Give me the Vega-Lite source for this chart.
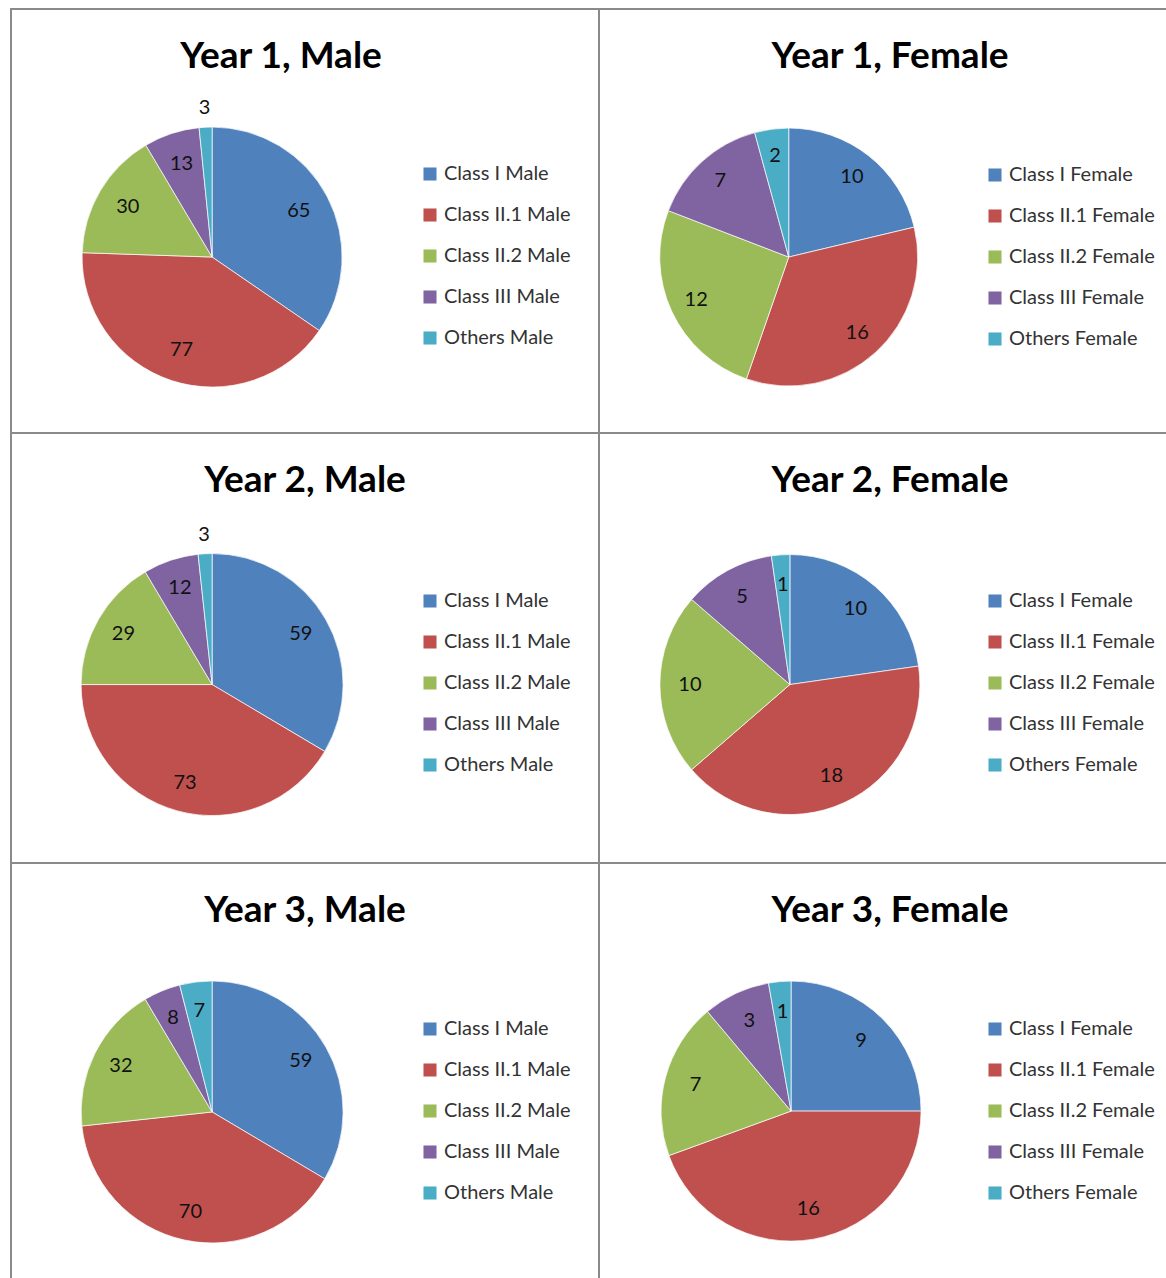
{
  "$schema": "https://vega.github.io/schema/vega-lite/v6.json",
  "padding": {"left": 10, "top": 8, "right": 0, "bottom": 0},
  "autosize": {"type": "pad"},
  "spacing": 0,
  "bounds": "flush",
  "columns": 2,
  "data": {"values": [
    {"year": "Year 1", "sex": "Male", "series": "Class I Male", "value": 65},
    {"year": "Year 1", "sex": "Male", "series": "Class II.1 Male", "value": 77},
    {"year": "Year 1", "sex": "Male", "series": "Class II.2 Male", "value": 30},
    {"year": "Year 1", "sex": "Male", "series": "Class III Male", "value": 13},
    {"year": "Year 1", "sex": "Male", "series": "Others Male", "value": 3},
    {"year": "Year 1", "sex": "Female", "series": "Class I Female", "value": 10},
    {"year": "Year 1", "sex": "Female", "series": "Class II.1 Female", "value": 16},
    {"year": "Year 1", "sex": "Female", "series": "Class II.2 Female", "value": 12},
    {"year": "Year 1", "sex": "Female", "series": "Class III Female", "value": 7},
    {"year": "Year 1", "sex": "Female", "series": "Others Female", "value": 2},
    {"year": "Year 2", "sex": "Male", "series": "Class I Male", "value": 59},
    {"year": "Year 2", "sex": "Male", "series": "Class II.1 Male", "value": 73},
    {"year": "Year 2", "sex": "Male", "series": "Class II.2 Male", "value": 29},
    {"year": "Year 2", "sex": "Male", "series": "Class III Male", "value": 12},
    {"year": "Year 2", "sex": "Male", "series": "Others Male", "value": 3},
    {"year": "Year 2", "sex": "Female", "series": "Class I Female", "value": 10},
    {"year": "Year 2", "sex": "Female", "series": "Class II.1 Female", "value": 18},
    {"year": "Year 2", "sex": "Female", "series": "Class II.2 Female", "value": 10},
    {"year": "Year 2", "sex": "Female", "series": "Class III Female", "value": 5},
    {"year": "Year 2", "sex": "Female", "series": "Others Female", "value": 1},
    {"year": "Year 3", "sex": "Male", "series": "Class I Male", "value": 59},
    {"year": "Year 3", "sex": "Male", "series": "Class II.1 Male", "value": 70},
    {"year": "Year 3", "sex": "Male", "series": "Class II.2 Male", "value": 32},
    {"year": "Year 3", "sex": "Male", "series": "Class III Male", "value": 8},
    {"year": "Year 3", "sex": "Male", "series": "Others Male", "value": 7},
    {"year": "Year 3", "sex": "Female", "series": "Class I Female", "value": 9},
    {"year": "Year 3", "sex": "Female", "series": "Class II.1 Female", "value": 16},
    {"year": "Year 3", "sex": "Female", "series": "Class II.2 Female", "value": 7},
    {"year": "Year 3", "sex": "Female", "series": "Class III Female", "value": 3},
    {"year": "Year 3", "sex": "Female", "series": "Others Female", "value": 1}
  ]},
  "concat": [
    {
      "width": 588, "height": 424,
      "title": {"text": "Year 1, Male", "dx": -24},
      "transform": [{"filter": "datum.year == 'Year 1' && datum.sex == 'Male'"}, {"joinaggregate": [{"op": "sum", "field": "value", "as": "total"}]}],
      "encoding": {
        "theta": {"field": "value", "type": "quantitative", "stack": true},
        "order": {"field": "series", "sort": "ascending"},
        "color": {"field": "series", "type": "nominal", "legend": {"title": null, "legendX": 409, "legendY": 155}},
        "x": {"datum": 0, "type": "quantitative", "scale": {"domain": [-342, 658], "nice": false, "zero": false}, "axis": null},
        "y": {"datum": 0, "type": "quantitative", "scale": {"domain": [-415, 585], "nice": false, "zero": false}, "axis": null}
      },
      "layer": [
        {"mark": {"type": "arc", "outerRadius": 130, "stroke": "#ffffff", "strokeWidth": 0.7}},
        {"mark": {"type": "text", "radius": {"expr": "datum.value / datum.total < 0.02 ? 149 : 98"}, "font": "Lato", "fontSize": 20, "align": "center", "baseline": "middle"},
         "encoding": {"text": {"field": "value", "type": "quantitative"}, "detail": {"field": "series"}, "color": {"value": "#111111"}}}
      ]
    },
    {
      "width": 582, "height": 424,
      "title": {"text": "Year 1, Female"},
      "transform": [{"filter": "datum.year == 'Year 1' && datum.sex == 'Female'"}, {"joinaggregate": [{"op": "sum", "field": "value", "as": "total"}]}],
      "encoding": {
        "theta": {"field": "value", "type": "quantitative", "stack": true},
        "order": {"field": "series", "sort": "ascending"},
        "color": {"field": "series", "type": "nominal", "legend": {"title": null, "legendX": 386, "legendY": 156}},
        "x": {"datum": 0, "type": "quantitative", "scale": {"domain": [-326, 674], "nice": false, "zero": false}, "axis": null},
        "y": {"datum": 0, "type": "quantitative", "scale": {"domain": [-415, 585], "nice": false, "zero": false}, "axis": null}
      },
      "layer": [
        {"mark": {"type": "arc", "outerRadius": 129, "stroke": "#ffffff", "strokeWidth": 0.7}},
        {"mark": {"type": "text", "radius": {"expr": "datum.value / datum.total < 0.02 ? 149 : 102"}, "font": "Lato", "fontSize": 20, "align": "center", "baseline": "middle"},
         "encoding": {"text": {"field": "value", "type": "quantitative"}, "detail": {"field": "series"}, "color": {"value": "#111111"}}}
      ]
    },
    {
      "width": 588, "height": 430,
      "title": {"text": "Year 2, Male"},
      "transform": [{"filter": "datum.year == 'Year 2' && datum.sex == 'Male'"}, {"joinaggregate": [{"op": "sum", "field": "value", "as": "total"}]}],
      "encoding": {
        "theta": {"field": "value", "type": "quantitative", "stack": true},
        "order": {"field": "series", "sort": "ascending"},
        "color": {"field": "series", "type": "nominal", "legend": {"title": null, "legendX": 409, "legendY": 158}},
        "x": {"datum": 0, "type": "quantitative", "scale": {"domain": [-342, 658], "nice": false, "zero": false}, "axis": null},
        "y": {"datum": 0, "type": "quantitative", "scale": {"domain": [-415, 585], "nice": false, "zero": false}, "axis": null}
      },
      "layer": [
        {"mark": {"type": "arc", "outerRadius": 131, "stroke": "#ffffff", "strokeWidth": 0.7}},
        {"mark": {"type": "text", "radius": {"expr": "datum.value / datum.total < 0.02 ? 150 : 102"}, "font": "Lato", "fontSize": 20, "align": "center", "baseline": "middle"},
         "encoding": {"text": {"field": "value", "type": "quantitative"}, "detail": {"field": "series"}, "color": {"value": "#111111"}}}
      ]
    },
    {
      "width": 582, "height": 430,
      "title": {"text": "Year 2, Female"},
      "transform": [{"filter": "datum.year == 'Year 2' && datum.sex == 'Female'"}, {"joinaggregate": [{"op": "sum", "field": "value", "as": "total"}]}],
      "encoding": {
        "theta": {"field": "value", "type": "quantitative", "stack": true},
        "order": {"field": "series", "sort": "ascending"},
        "color": {"field": "series", "type": "nominal", "legend": {"title": null, "legendX": 386, "legendY": 158}},
        "x": {"datum": 0, "type": "quantitative", "scale": {"domain": [-328, 672], "nice": false, "zero": false}, "axis": null},
        "y": {"datum": 0, "type": "quantitative", "scale": {"domain": [-415, 585], "nice": false, "zero": false}, "axis": null}
      },
      "layer": [
        {"mark": {"type": "arc", "outerRadius": 130, "stroke": "#ffffff", "strokeWidth": 0.7}},
        {"mark": {"type": "text", "radius": {"expr": "datum.value / datum.total < 0.02 ? 150 : 100"}, "font": "Lato", "fontSize": 20, "align": "center", "baseline": "middle"},
         "encoding": {"text": {"field": "value", "type": "quantitative"}, "detail": {"field": "series"}, "color": {"value": "#111111"}}}
      ]
    },
    {
      "width": 588, "height": 430,
      "title": {"text": "Year 3, Male"},
      "transform": [{"filter": "datum.year == 'Year 3' && datum.sex == 'Male'"}, {"joinaggregate": [{"op": "sum", "field": "value", "as": "total"}]}],
      "encoding": {
        "theta": {"field": "value", "type": "quantitative", "stack": true},
        "order": {"field": "series", "sort": "ascending"},
        "color": {"field": "series", "type": "nominal", "legend": {"title": null, "legendX": 409, "legendY": 156}},
        "x": {"datum": 0, "type": "quantitative", "scale": {"domain": [-342, 658], "nice": false, "zero": false}, "axis": null},
        "y": {"datum": 0, "type": "quantitative", "scale": {"domain": [-421, 579], "nice": false, "zero": false}, "axis": null}
      },
      "layer": [
        {"mark": {"type": "arc", "outerRadius": 131, "stroke": "#ffffff", "strokeWidth": 0.7}},
        {"mark": {"type": "text", "radius": {"expr": "datum.value / datum.total < 0.02 ? 150 : 102"}, "font": "Lato", "fontSize": 20, "align": "center", "baseline": "middle"},
         "encoding": {"text": {"field": "value", "type": "quantitative"}, "detail": {"field": "series"}, "color": {"value": "#111111"}}}
      ]
    },
    {
      "width": 582, "height": 430,
      "title": {"text": "Year 3, Female"},
      "transform": [{"filter": "datum.year == 'Year 3' && datum.sex == 'Female'"}, {"joinaggregate": [{"op": "sum", "field": "value", "as": "total"}]}],
      "encoding": {
        "theta": {"field": "value", "type": "quantitative", "stack": true},
        "order": {"field": "series", "sort": "ascending"},
        "color": {"field": "series", "type": "nominal", "legend": {"title": null, "legendX": 386, "legendY": 156}},
        "x": {"datum": 0, "type": "quantitative", "scale": {"domain": [-330, 670], "nice": false, "zero": false}, "axis": null},
        "y": {"datum": 0, "type": "quantitative", "scale": {"domain": [-423, 577], "nice": false, "zero": false}, "axis": null}
      },
      "layer": [
        {"mark": {"type": "arc", "outerRadius": 130, "stroke": "#ffffff", "strokeWidth": 0.7}},
        {"mark": {"type": "text", "radius": {"expr": "datum.value / datum.total < 0.02 ? 150 : 99"}, "font": "Lato", "fontSize": 20, "align": "center", "baseline": "middle"},
         "encoding": {"text": {"field": "value", "type": "quantitative"}, "detail": {"field": "series"}, "color": {"value": "#111111"}}}
      ]
    }
  ],
  "resolve": {"scale": {"color": "independent", "theta": "independent"}, "legend": {"color": "independent"}},
  "config": {
    "view": {"stroke": "#8a8a8a", "strokeWidth": 2},
    "range": {"category": ["#4F81BD", "#C0504D", "#9BBB59", "#8064A2", "#4BACC6"]},
    "title": {"font": "Lato", "fontSize": 37, "fontWeight": "bold", "color": "#000000", "offset": -67, "anchor": "middle"},
    "legend": {"orient": "none", "symbolType": "square", "symbolSize": 170, "symbolStrokeWidth": 0, "labelFont": "Lato", "labelFontSize": 20, "labelColor": "#333333", "rowPadding": 21, "labelOffset": 4, "padding": 0, "labelLimit": 300}
  }
}
